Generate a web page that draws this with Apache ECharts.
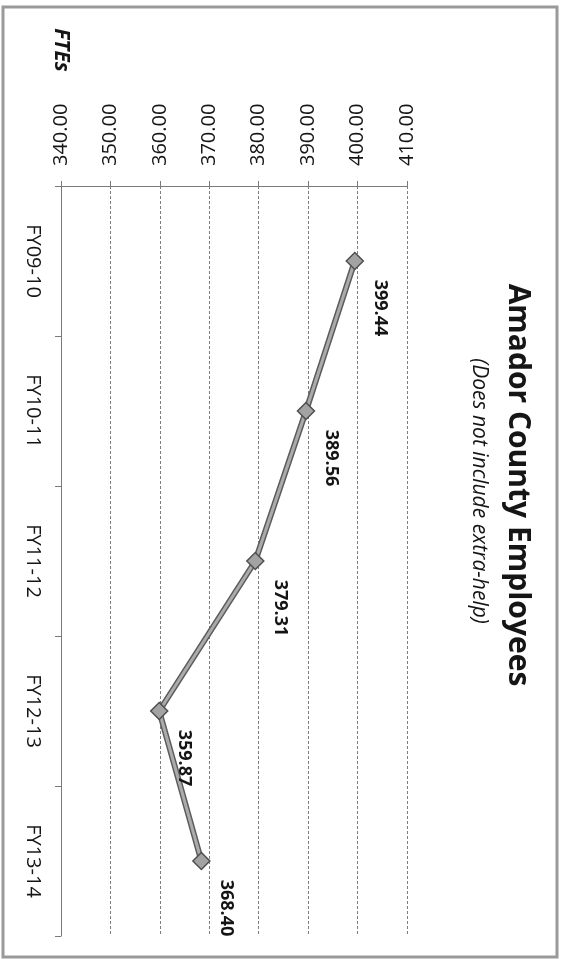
<!DOCTYPE html>
<html>
<head>
<meta charset="utf-8">
<script src="https://cdn.jsdelivr.net/npm/echarts@6/dist/echarts.min.js"></script>
<style>
html,body{margin:0;padding:0;background:#fff;}
#c{width:568px;height:960px;}
</style>
</head>
<body>
<div id="c"></div>
<script>
const titleText = 'Amador County Employees';
const subtitleText = '(Does not include extra-help)';
const axisNameText = 'FTEs';
const categories = ['FY09-10', 'FY10-11', 'FY11-12', 'FY12-13', 'FY13-14'];
const ftes = [399.44, 389.56, 379.31, 359.87, 368.40];
const valueMin = 340;
const valueMax = 410;
const valueStep = 10;

const font = '"Open Sans", "Noto Sans", sans-serif';
const rot = -Math.PI / 2;
const chart = echarts.init(document.getElementById('c'), null, { renderer: 'canvas' });

const option = {
  backgroundColor: '#ffffff',
  animation: false,
  textStyle: { fontFamily: font },
  grid: { left: 61, top: 186, width: 346, height: 750, containLabel: false, outerBoundsMode: 'none' },
  xAxis: {
    type: 'value', position: 'top',
    min: valueMin, max: valueMax, interval: valueStep,
    axisLine: { show: true, lineStyle: { color: '#7a7a7a', width: 1 } },
    axisTick: { show: true, length: 5, lineStyle: { color: '#7a7a7a' } },
    axisLabel: { rotate: -90, margin: 20, fontSize: 20, color: '#151515', fontFamily: font,
      formatter: v => v.toFixed(2) },
    splitLine: { show: true, lineStyle: { color: '#7e7e7e', width: 1, type: [3, 2] } }
  },
  yAxis: {
    type: 'category', data: categories, inverse: true, boundaryGap: true,
    axisLine: { show: true, lineStyle: { color: '#7a7a7a', width: 1 } },
    axisTick: { show: true, length: 6, lineStyle: { color: '#7a7a7a' } },
    axisLabel: { rotate: -90, margin: 18, fontSize: 20, color: '#151515', fontFamily: font },
    splitLine: { show: false }
  },
  series: [
    {
      type: 'line', data: ftes, silent: true, z: 2,
      symbol: 'none',
      lineStyle: { color: '#5c5c5c', width: 6 }
    },
    {
      type: 'line', data: ftes, z: 3,
      symbol: 'diamond', symbolSize: 17,
      lineStyle: { color: '#ababab', width: 3 },
      itemStyle: { color: '#a3a3a3', borderColor: '#4f4f4f', borderWidth: 1.5 },
      label: {
        show: true, position: 'inside', rotate: -90,
        offset: [47, -25],
        fontSize: 18, fontWeight: 'bold', color: '#151515', fontFamily: font,
        formatter: p => ftes[p.dataIndex].toFixed(2)
      }
    }
  ],
  graphic: [
    { type: 'rect', z: 0, silent: true,
      shape: { x: 3, y: 7, width: 554, height: 950 },
      style: { fill: 'none', stroke: '#9a9a9a', lineWidth: 3 } },
    { type: 'text', x: 518, y: 485, rotation: rot, z: 10,
      style: { text: titleText, fontSize: 30, fontWeight: 'bold', fontFamily: font,
        fill: '#151515', align: 'center', verticalAlign: 'middle' } },
    { type: 'text', x: 479, y: 491, rotation: rot, z: 10,
      style: { text: subtitleText, fontSize: 21, fontStyle: 'italic', fontFamily: font,
        fill: '#151515', align: 'center', verticalAlign: 'middle' } },
    { type: 'text', x: 61, y: 50, rotation: rot, z: 10,
      style: { text: axisNameText, fontSize: 21, fontStyle: 'italic', fontWeight: 'bold', fontFamily: font,
        fill: '#151515', align: 'center', verticalAlign: 'middle' } }
  ]
};
chart.setOption(option);
</script>
</body>
</html>
